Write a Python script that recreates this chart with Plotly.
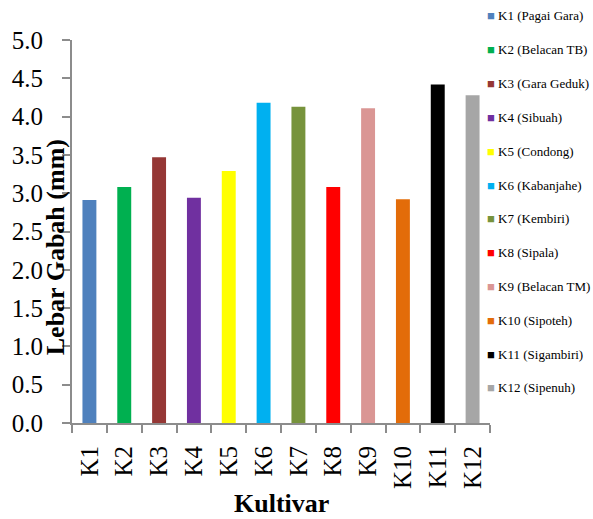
import plotly.graph_objects as go

# Grain width (mm) per cultivar
codes = ["K1", "K2", "K3", "K4", "K5", "K6", "K7", "K8", "K9", "K10", "K11", "K12"]
names = ["Pagai Gara", "Belacan TB", "Gara Geduk", "Sibuah", "Condong", "Kabanjahe",
         "Kembiri", "Sipala", "Belacan TM", "Sipoteh", "Sigambiri", "Sipenuh"]
widths = [2.91, 3.08, 3.47, 2.94, 3.29, 4.18, 4.13, 3.08, 4.11, 2.92, 4.42, 4.28]
colors = ["#4F81BD", "#00B050", "#953735", "#7030A0", "#FFFF00", "#00B0F0",
          "#77933C", "#FF0000", "#DA9694", "#E36C09", "#000000", "#A6A6A6"]

SERIF = "Liberation Serif, Times New Roman, serif"
AXIS_GRAY = "#8C8C8C"

W, H = 593, 519
L, R, T, B = 66, 103, 40, 96
plot_w = W - L - R
plot_h = H - T - B

fig = go.Figure()
for code, val, col in zip(codes, widths, colors):
    fig.add_trace(go.Bar(x=[code], y=[val], marker=dict(color=col, line=dict(width=0)),
                         showlegend=False))

fig.update_layout(
    width=W, height=H,
    margin=dict(l=L, r=R, t=T, b=B),
    plot_bgcolor="white", paper_bgcolor="white",
    barmode="overlay", bargap=0.6,
    font=dict(family=SERIF, color="black", size=25),
)

fig.update_xaxes(
    type="category", categoryorder="array", categoryarray=codes,
    showline=True, linecolor=AXIS_GRAY, linewidth=2,
    ticks="outside", tickson="boundaries", ticklen=8, tickcolor=AXIS_GRAY, tickwidth=2,
    tickangle=-90, tickfont=dict(family=SERIF, size=25, color="black"),
    ticklabelstandoff=11, showgrid=False, zeroline=False,
)
fig.update_yaxes(
    range=[0, 5], dtick=0.5, tick0=0, tickformat=".1f",
    showline=True, linecolor=AXIS_GRAY, linewidth=2,
    ticks="outside", ticklen=8, tickcolor=AXIS_GRAY, tickwidth=2,
    tickfont=dict(family=SERIF, size=25, color="black"),
    ticklabelstandoff=14, showgrid=False, zeroline=False,
)

def px_x(p):
    return (p - L) / plot_w

def px_y(p):
    return (H - B - p) / plot_h

# Axis titles
fig.add_annotation(text="<b>Kultivar</b>", xref="paper", yref="paper",
                   x=px_x(278), y=px_y(503), showarrow=False,
                   font=dict(family=SERIF, size=26, color="black"),
                   xanchor="center", yanchor="middle")
fig.add_annotation(text="<b>Lebar Gabah (mm)</b>", xref="paper", yref="paper",
                   x=px_x(50), y=px_y(247), showarrow=False, textangle=-90,
                   font=dict(family=SERIF, size=26, color="black"),
                   xanchor="center", yanchor="middle")

# Legend column on the right
leg_top, leg_step = 16, 33.8
for i, (code, name, col) in enumerate(zip(codes, names, colors)):
    yc = leg_top + i * leg_step
    fig.add_annotation(
        text=f"<span style='color:{col}'>■</span> {code} ({name})",
        xref="paper", yref="paper", x=px_x(485), y=px_y(yc),
        showarrow=False, xanchor="left", yanchor="middle",
        font=dict(family=SERIF, size=13, color="black"),
    )

fig.write_html("out.html")
